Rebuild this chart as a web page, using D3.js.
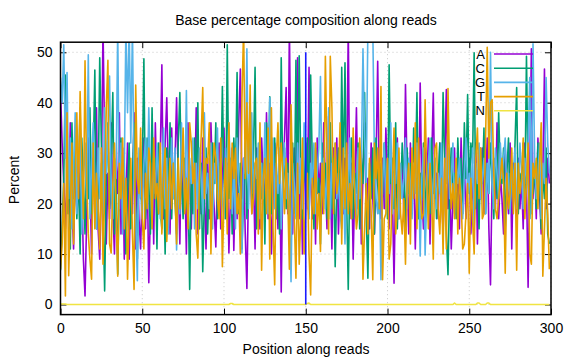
<!DOCTYPE html>
<html><head><meta charset="utf-8">
<script src="https://cdn.jsdelivr.net/npm/d3@7"></script>
<style>body{margin:0;background:#fff}svg{display:block}text{font-family:"Liberation Sans",Arial,sans-serif;fill:#000}</style>
</head><body>
<script>
const seriesNames = ["A","C","G","T","N"];
const colors = ["#9400d3","#009e73","#56b4e9","#e69f00","#f0e442"];
const xTicks = [0,50,100,150,200,250,300];
const yTicks = [0,10,20,30,40,50];
const title = "Base percentage composition along reads";
const xLabel = "Position along reads";
const yLabel = "Percent";
const markerPos = [150];
const markerRange = [0,50];

const A = [42.5,32,24,15,26,18,36,21,11,28, 19,31,14,24,9,1.7,17,33,25,10, 29,21,39,15,9,24,55,32,12,26,
17,36,19,10,28,22,38,14,31,9, 21,32,9,25,18,38,11,29,17,11, 24,33,15,28,4.3,19,31,12,36,22,
18,29,47.5,17,32,41,24,14,35,21, 28,41,25,12,32,19,26,10,36,24, 15,31,21,39,14,28,18,33,22,11,
29,17,36,25,19,11.4,26,32,15,24, 35,18,28,10.2,22,31,10.7,25,17,36, 46.7,21,29,14,3.2,24,32,18,26,11,
31,22,15,33,25,19,38,17,28,10, 21,32,25,15,29,2.5,26,33,43,18, 55,24,14,31,21,48.9,17,28,10,25,
32,19,47,25,17,29,12,33,22,28, 18,36,24,15,37.3,26,11,31,21,33, 14,25,35,18,29,22,55,17,28,9,
24,39,19,31,12,26,36,18,25,15, 32,21,14,28,48.2,24,17,29,19,35, 25,15,31,22,4.2,26,33,17,24,29,
18,43.6,26,14,32,21,28,11,25,19, 43.9,22,15,31,24,33,12,28,41.9,21, 26,17,32,24,14,29,42.6,19,25,11,
21,31,18,26,15,33,22,28,17,24, 29,14,25,19,32,12,26,21,31,18, 24,33,15,3.9,25,29,19,36,17,26,
21,14,31,24,18,32,11,28,22,17, 29,19,25,15,32,24,3.4,26,50.7,21, 28,17,33,22,14,26,46.7,19,29,24];

const C = [6.8,15,25,45.5,18,29,11,36,21,32, 17,26,10,33,24,14,31,21,39,18, 28,46.5,15,22,48.9,32,18,2.7,25,36,
19,29,42,14,26,6,24,33,17,28, 10,22,32,15,25,36,18,9,29,21, 26,48.7,17,33,24,14,39,21,29,11,
32,19,15,26,10,31,22,36,17,28, 21,14,32,42,25,17,29,19,24,3, 26,18,33,24,40,15,28,6.5,21,31,
14,25,19,32,24,36,17,28,21,43.2, 25,17,51.5,21,29,14,33,24,46,18, 28,11,22,32,17,26,38,19,29,47,
15,25,32,21,28,12,36,24,41.2,18, 26,33,17,24,14,48.9,22,31,19,28, 15,25,32,18,48.4,21,49.3,26,17,29,
24,33,18,45.5,28,15,31,22,25,12, 32,21,28,17,26,36,19,29,7.5,24, 31,18,47,25,47.9,21,3,28,33,17,
26,22,32,15,29,24,42,18,5.2,28, 21,31,14,33,24,18,28,22,32,26, 17,47.5,24,29,19,36,15,26,21,32,
25,14,31,22,28,18,35,24,42,17, 26,21,32,15,28,24,18,33,22,29, 17,25,32,19,42,28,14,5.9,24,31,
21,26,17,33,24,29,18,36,25,41.6, 22,32,28,49.9,19,26,15,31,24,35, 18,28,22,32,25,17,29,21,38,26,
24,31,15,26,33,19,28,22,32,43, 18,26,24,32,21,49.2,25,17,29,22, 28,19,32,24,15,26,21,31,14,12];

const G = [45,40,51.5,29,46,21,33,15,26,38, 18,29,39,14,25,32,21,49.5,17,28, 36,24,15,31,21,28,18,39,26,33,
45.3,22,17,29,25,55,19,32,14,26, 55,38,55,32,55,24,18,4.7,31,22, 17,28,33,21,39,25,15,29,22,32,
26,17,24,35,19,29,14,25,33,21, 31,10.8,24,18,36,26,21,42.4,17,29, 24,33,15,28,19,31,25,18,38,22,
26,19,32,15,28,24,35,18,29,21, 17,31,22,36,25,18,28,15,33,24, 21,10.2,29,26,50.7,19,32,38,22,28,
25,32,17,28,21,36,24,18,41,26, 33,19,28,22,31,15,25,32,21,26, 18,4.5,28,24,17,32,22,29,19,36,
25,21,17,28,24,32,18,26,31,45.2, 22,29,19,26,39,17,28,24,32,21, 26,18,15,25,12,29,22,33,19,28,
24,17,31,21,28,50.7,33,24,55,55, 55,55,29,21,18,26,4.9,24,32,19, 29,22,36,18,26,24,32,17,28,21,
25,33,19,29,24,17,28,22,32,26, 9.6,25,31,9.8,21,28,33,18,24,29, 19,26,22,32,15,28,24,31,21,25,
32,18,28,24,29,21,17,26,33,22, 26,19,31,15,28,24,32,21,25,29, 18,28,22,50,24,19,31,26,21,32,
25,29,33,21,26,18,28,24,31,19, 22,32,26,19,29,24,32,45,18,51.7, 29,21,25,32,17,28,24,45,32,26];

const T = [7,12,24,1.7,38,5.7,18,32,12,25, 38,21,42.2,28,17,48.3,25,14,9,5, 32,15,26,19,11,31,8,22,39,48.4,
12,10.2,24,32,18,5.6,28,21,33,15, 25,5,18,29,14,3,43.5,25,22,35, 17,11,26,19,31,28,15,33,21,24,
18,32,14,25,31,12.5,22,29,19,28, 22,12,29,19,26,35,18,25,15,36, 32,24,28,14,9.2,25,33,43,21,29,
28,36,10,25,32,29,21,17,33,7.5, 21,29,14,36,19,32,25,31,18,22, 10,41,55,25,40,26,43.5,18,21,28,
29,14,36,6.8,25,29,18,35,9,39, 15,3.9,29,36,24,32,26,18,29,21, 7,39.6,25,17,5.2,28,8,18,33,10,
19,26,10,1.9,25,18,32,15,22,10.5, 28,18,49.2,29,14,49.2,39,18,32,22, 25,36,12,31,19,32,18,24,17,35,
21,15,18,33,26,5,15,24,14,29, 18,4.9,32,25,31,19,43.2,4.9,17,18, 29,9,12,24,35,14,19,31,18,14,
21,8,24,28,12,31,21,36,15,33, 22,17,18,40.6,25,15,28,21,9,31, 32,19,14,25,10,29,11,42.8,26,19,
24,17,29,14,25,21,11,12,18,24, 6.2,25,17,10,29,35,21,31,17,18, 33,51,29,40,40.6,26,19,17,21,25,
29,24,6.2,26,19,22,31,18,28,6.8, 28,22,25,33,17,24,32,10,8,28, 25,29,19,28,36,5.6,15,25,18,7];

const N = [0.1,0.1,0.1,0.1,0,0,0,0,0,0, 0,0,0,0,0,0,0,0,0,0, 0,0,0,0,0,0,0,0,0,0,
0,0,0,0,0,0,0,0,0,0, 0,0,0,0,0,0,0,0,0,0, 0,0,0,0,0,0,0,0,0,0,
0,0,0,0,0,0,0,0,0,0, 0,0,0,0,0,0,0,0,0,0, 0,0,0,0,0,0,0,0,0,0,
0,0,0,0,0,0,0,0,0,0, 0,0,0,0,0.2,0.2,0,0,0,0, 0,0,0,0,0,0,0,0,0,0,
0,0,0,0,0,0,0,0,0,0, 0,0,0,0,0,0,0,0,0,0, 0,0,0,0,0,0,0,0,0,0,
0,0.2,0.3,0,0,0,0,0,0,0, 0,0,0,0,0,0,0,0,0,0, 0,0,0,0,0,0,0,0,0,0,
0,0,0,0,0,0,0,0,0,0, 0,0,0,0,0,0,0,0,0,0, 0,0,0,0,0,0,0,0,0,0,
0,0,0,0,0,0,0,0,0,0, 0,0,0,0,0,0,0,0,0,0, 0,0,0,0,0,0,0,0,0,0,
0,0.3,0,0,0,0,0,0,0,0, 0,0,0,0,0,0.3,0.3,0,0,0, 0,0.3,0.3,0,0,0,0,0,0,0,
0,0,0,0,0,0,0,0,0,0, 0,0,0,0,0,0,0,0,0,0, 0,0,0,0,0,0,0,0,0,0];

const seriesData = [A, C, G, T, N];

const W = 576, H = 360;
const pL = 60.5, pR = 551, pT = 42.2, pB = 314.6;
const x = d3.scaleLinear().domain([0, 300]).range([pL, pR]);
const y = d3.scaleLinear().domain([-2, 52]).range([pB, pT]);

const svg = d3.select("body").append("svg").attr("width", W).attr("height", H);

// grid
const grid = svg.append("g").attr("stroke", "#c8c8c8").attr("stroke-width", 1).attr("stroke-dasharray", "1,3");
grid.selectAll(".gx").data(xTicks).join("line")
  .attr("x1", d => x(d)).attr("x2", d => x(d)).attr("y1", pT).attr("y2", pB);
grid.selectAll(".gy").data(yTicks).join("line")
  .attr("x1", pL).attr("x2", pR).attr("y1", d => y(d)).attr("y2", d => y(d));

// axes
const fs = "14px";
const ax = (g) => { g.select(".domain").remove(); g.selectAll("line").attr("stroke", "#000").attr("stroke-width", 1); g.selectAll("text").style("font-size", fs).style("font-family", '"Liberation Sans",Arial,sans-serif'); };
svg.append("g").attr("transform", `translate(${pL},0)`).call(d3.axisLeft(y).tickValues(yTicks).tickSize(-6).tickPadding(8)).call(ax);
svg.append("g").attr("transform", `translate(${pR},0)`).call(d3.axisRight(y).tickValues(yTicks).tickSize(-6).tickFormat("")).call(ax);
svg.append("g").attr("transform", `translate(0,${pB})`).call(d3.axisBottom(x).tickValues(xTicks).tickSize(-6).tickPadding(8)).call(ax);
svg.append("g").attr("transform", `translate(0,${pT})`).call(d3.axisTop(x).tickValues(xTicks).tickSize(-6).tickFormat("")).call(ax);

// clip
svg.append("clipPath").attr("id", "clip").append("rect")
  .attr("x", pL).attr("y", pT).attr("width", pR - pL).attr("height", pB - pT);

const line = d3.line().x((d, i) => x(i)).y(d => y(d));
const plot = svg.append("g").attr("clip-path", "url(#clip)");
seriesData.forEach((s, k) => {
  plot.append("path").datum(s).attr("d", line).attr("fill", "none")
    .attr("stroke", colors[k]).attr("stroke-width", 1.6).attr("stroke-linejoin", "round");
});
// marker line
plot.selectAll(".mk").data(markerPos).join("line")
  .attr("x1", d => x(d)).attr("x2", d => x(d))
  .attr("y1", y(markerRange[0])).attr("y2", y(markerRange[1]))
  .attr("stroke", "#1a1aff").attr("stroke-width", 1.6);

// border
svg.append("rect").attr("x", pL).attr("y", pT).attr("width", pR - pL).attr("height", pB - pT)
  .attr("fill", "none").attr("stroke", "#000").attr("stroke-width", 1.5);

// legend
const lg = svg.append("g");
seriesNames.forEach((n, k) => {
  const yy = 54 + k * 14.2;
  lg.append("text").attr("x", 485).attr("y", yy).attr("dy", "0.36em").attr("text-anchor", "end")
    .style("font-size", "13px").text(n);
  lg.append("line").attr("x1", 494).attr("x2", 533).attr("y1", yy).attr("y2", yy)
    .attr("stroke", colors[k]).attr("stroke-width", 1.6);
});

// titles
svg.append("text").attr("x", 306).attr("y", 25).attr("text-anchor", "middle").style("font-size", fs).text(title);
svg.append("text").attr("x", 306).attr("y", 354).attr("text-anchor", "middle").style("font-size", fs).text(xLabel);
svg.append("text").attr("transform", "translate(19,180) rotate(-90)").attr("text-anchor", "middle").style("font-size", fs).text(yLabel);
</script>
</body></html>
